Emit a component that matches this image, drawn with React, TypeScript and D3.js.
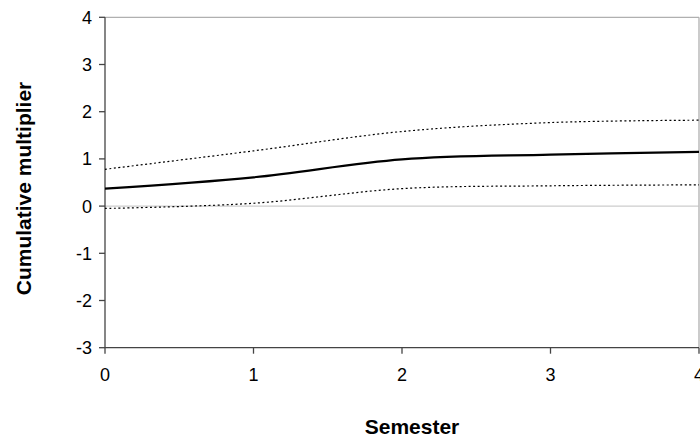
import React from "react";
import * as d3 from "d3";

const semesters = [0, 1, 2, 3, 4];
const estimate = [0.37, 0.61, 0.99, 1.09, 1.15];
const upperBound = [0.78, 1.17, 1.58, 1.77, 1.82];
const lowerBound = [-0.05, 0.06, 0.37, 0.43, 0.45];
const xTicks = [0, 1, 2, 3, 4];
const yTicks = [-3, -2, -1, 0, 1, 2, 3, 4];

const W = 700;
const H = 437;
const left = 105;
const right = 699;
const top = 17.3;
const bottom = 347.7;

export default function App() {
  const x = d3.scaleLinear().domain([0, 4]).range([left, right]);
  const y = d3.scaleLinear().domain([-3, 4]).range([bottom, top]);
  const line = (vals: number[]) =>
    d3
      .line<number>()
      .x((_, i) => x(semesters[i]))
      .y((d) => y(d))
      .curve(d3.curveCatmullRom.alpha(0.5))(vals) as string;

  const font = "'Liberation Sans', Arial, sans-serif";
  return (
    <svg
      width={W}
      height={H}
      style={{ position: "absolute", left: 0, top: 0 }}
      fontFamily={font}
    >
      <rect width={W} height={H} fill="#fff" />
      {/* top/right frame */}
      <line x1={left} x2={right} y1={top} y2={top} stroke="#b0b0b0" strokeWidth={1.3} />
      <line x1={right} x2={right} y1={top} y2={bottom} stroke="#b0b0b0" strokeWidth={1.3} />
      {/* zero line */}
      <line x1={left} x2={right} y1={y(0)} y2={y(0)} stroke="#c0c0c0" strokeWidth={1} />
      {/* axes */}
      <line x1={left} x2={left} y1={top} y2={bottom} stroke="#444" strokeWidth={1.3} />
      <line x1={left} x2={right} y1={bottom} y2={bottom} stroke="#444" strokeWidth={1.3} />
      {yTicks.map((t) => (
        <g key={"y" + t}>
          <line x1={left - 6} x2={left} y1={y(t)} y2={y(t)} stroke="#444" strokeWidth={1.3} />
          <text x={left - 13} y={y(t)} dy="0.36em" textAnchor="end" fontSize={18} fill="#000">
            {t}
          </text>
        </g>
      ))}
      {xTicks.map((t) => (
        <g key={"x" + t}>
          <line x1={x(t)} x2={x(t)} y1={bottom} y2={bottom + 6} stroke="#444" strokeWidth={1.3} />
          <text x={x(t)} y={381} textAnchor="middle" fontSize={18} fill="#000">
            {t}
          </text>
        </g>
      ))}
      <path d={line(upperBound)} fill="none" stroke="#000" strokeWidth={1.2} strokeDasharray="2,2.5" />
      <path d={line(lowerBound)} fill="none" stroke="#000" strokeWidth={1.2} strokeDasharray="2,2.5" />
      <path d={line(estimate)} fill="none" stroke="#000" strokeWidth={2.2} />
      <text
        transform={`translate(31,188.5) rotate(-90)`}
        textAnchor="middle"
        fontSize={21}
        fontWeight="bold"
        fill="#000"
      >
        Cumulative multiplier
      </text>
      <text x={412} y={434} textAnchor="middle" fontSize={21} fontWeight="bold" fill="#000">
        Semester
      </text>
    </svg>
  );
}
